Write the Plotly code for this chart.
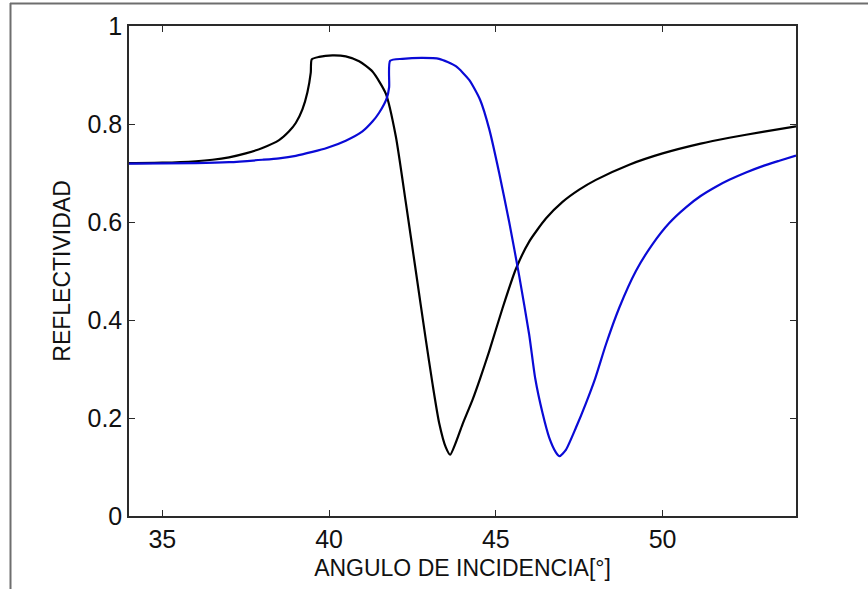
import plotly.graph_objects as go

# ---- data ----
black_x = [34.0, 35.0, 36.0, 36.5, 37.0, 37.5, 38.0, 38.5, 38.8, 39.0, 39.2, 39.35, 39.45, 39.48,
           39.7, 40.1, 40.5, 40.9, 41.3, 41.7, 42.0, 42.3, 42.6, 42.9, 43.1, 43.3, 43.5, 43.63,
           43.8, 44.0, 44.3, 44.53, 44.8, 45.2, 45.6, 46.0, 46.5, 47.0, 47.5, 48.0, 49.0, 50.0,
           51.14, 52.0, 53.0, 54.0]
black_y = [0.720, 0.721, 0.724, 0.727, 0.732, 0.740, 0.751, 0.767, 0.785, 0.802, 0.830, 0.865, 0.905, 0.932,
           0.937, 0.940, 0.938, 0.928, 0.907, 0.862, 0.775, 0.640, 0.500, 0.360, 0.270, 0.190, 0.140, 0.125,
           0.150, 0.187, 0.237, 0.281, 0.336, 0.424, 0.504, 0.560, 0.607, 0.641, 0.666, 0.686, 0.717, 0.740,
           0.760, 0.772, 0.784, 0.795]

blue_x = [34.0, 36.0, 37.0, 38.0, 38.5, 39.0, 39.5, 39.93, 40.5, 41.0, 41.3, 41.5, 41.73, 41.8, 41.83,
          42.2, 42.8, 43.3, 43.8, 44.2, 44.53, 44.8, 45.1, 45.4, 45.7, 46.0, 46.18, 46.4, 46.6, 46.8,
          46.91, 47.1, 47.4, 47.7, 47.98, 48.3, 48.7, 49.2, 49.7, 50.2, 50.7, 51.14, 51.6, 52.0, 52.5,
          53.0, 53.5, 54.0]
blue_y = [0.719, 0.720, 0.722, 0.727, 0.730, 0.735, 0.743, 0.751, 0.766, 0.785, 0.805, 0.823, 0.853, 0.875, 0.929,
          0.933, 0.935, 0.933, 0.918, 0.890, 0.849, 0.790, 0.700, 0.600, 0.490, 0.370, 0.281, 0.210, 0.160, 0.130,
          0.122, 0.135, 0.180, 0.230, 0.281, 0.350, 0.425, 0.500, 0.555, 0.598, 0.630, 0.653, 0.672, 0.686, 0.701,
          0.714, 0.725, 0.7355]

x_ticks = [35, 40, 45, 50]
y_ticks = [0, 0.2, 0.4, 0.6, 0.8, 1]

W, H = 868, 589
ML, MR, MT, MB = 129, 72, 26, 71
FONT = "Liberation Sans, Arial, sans-serif"

fig = go.Figure()
fig.add_trace(go.Scatter(x=black_x, y=black_y, mode="lines",
                         line=dict(color="#000000", width=2.2, shape="spline", smoothing=0.6),
                         showlegend=False))
fig.add_trace(go.Scatter(x=blue_x, y=blue_y, mode="lines",
                         line=dict(color="#0a0ad6", width=2.2, shape="spline", smoothing=0.6),
                         showlegend=False))

axis_common = dict(showline=True, linecolor="#2a2a2a", linewidth=1.5, mirror="ticks",
                   ticks="inside", ticklen=6, tickwidth=1, tickcolor="#2a2a2a",
                   showgrid=False, zeroline=False,
                   tickfont=dict(family=FONT, size=25, color="#111"))

fig.update_xaxes(range=[34, 54], tickvals=x_ticks, ticktext=[str(v) for v in x_ticks],
                 title=dict(text="ANGULO DE INCIDENCIA[°]", standoff=8,
                            font=dict(family=FONT, size=23, color="#111")),
                 **axis_common)
fig.update_yaxes(range=[0, 1], tickvals=y_ticks, ticktext=["0", "0.2", "0.4", "0.6", "0.8", "1"],
                 title=dict(text="REFLECTIVIDAD", standoff=10,
                            font=dict(family=FONT, size=23, color="#111")),
                 **axis_common)

pw = W - ML - MR
ph = H - MT - MB
def px2paper_x(px):
    return (px - ML) / pw
def px2paper_y(py):
    return (H - MB - py) / ph

# outer gray frame (top and left)
fig.add_shape(type="line", xref="paper", yref="paper",
              x0=px2paper_x(10), x1=px2paper_x(870), y0=px2paper_y(3.5), y1=px2paper_y(3.5),
              line=dict(color="#6e6e6e", width=2))
fig.add_shape(type="line", xref="paper", yref="paper",
              x0=px2paper_x(10.5), x1=px2paper_x(10.5), y0=px2paper_y(3), y1=px2paper_y(592),
              line=dict(color="#6e6e6e", width=2))

fig.update_layout(width=W, height=H, margin=dict(l=ML, r=MR, t=MT, b=MB),
                  paper_bgcolor="white", plot_bgcolor="white")

fig.write_html("out.html")
